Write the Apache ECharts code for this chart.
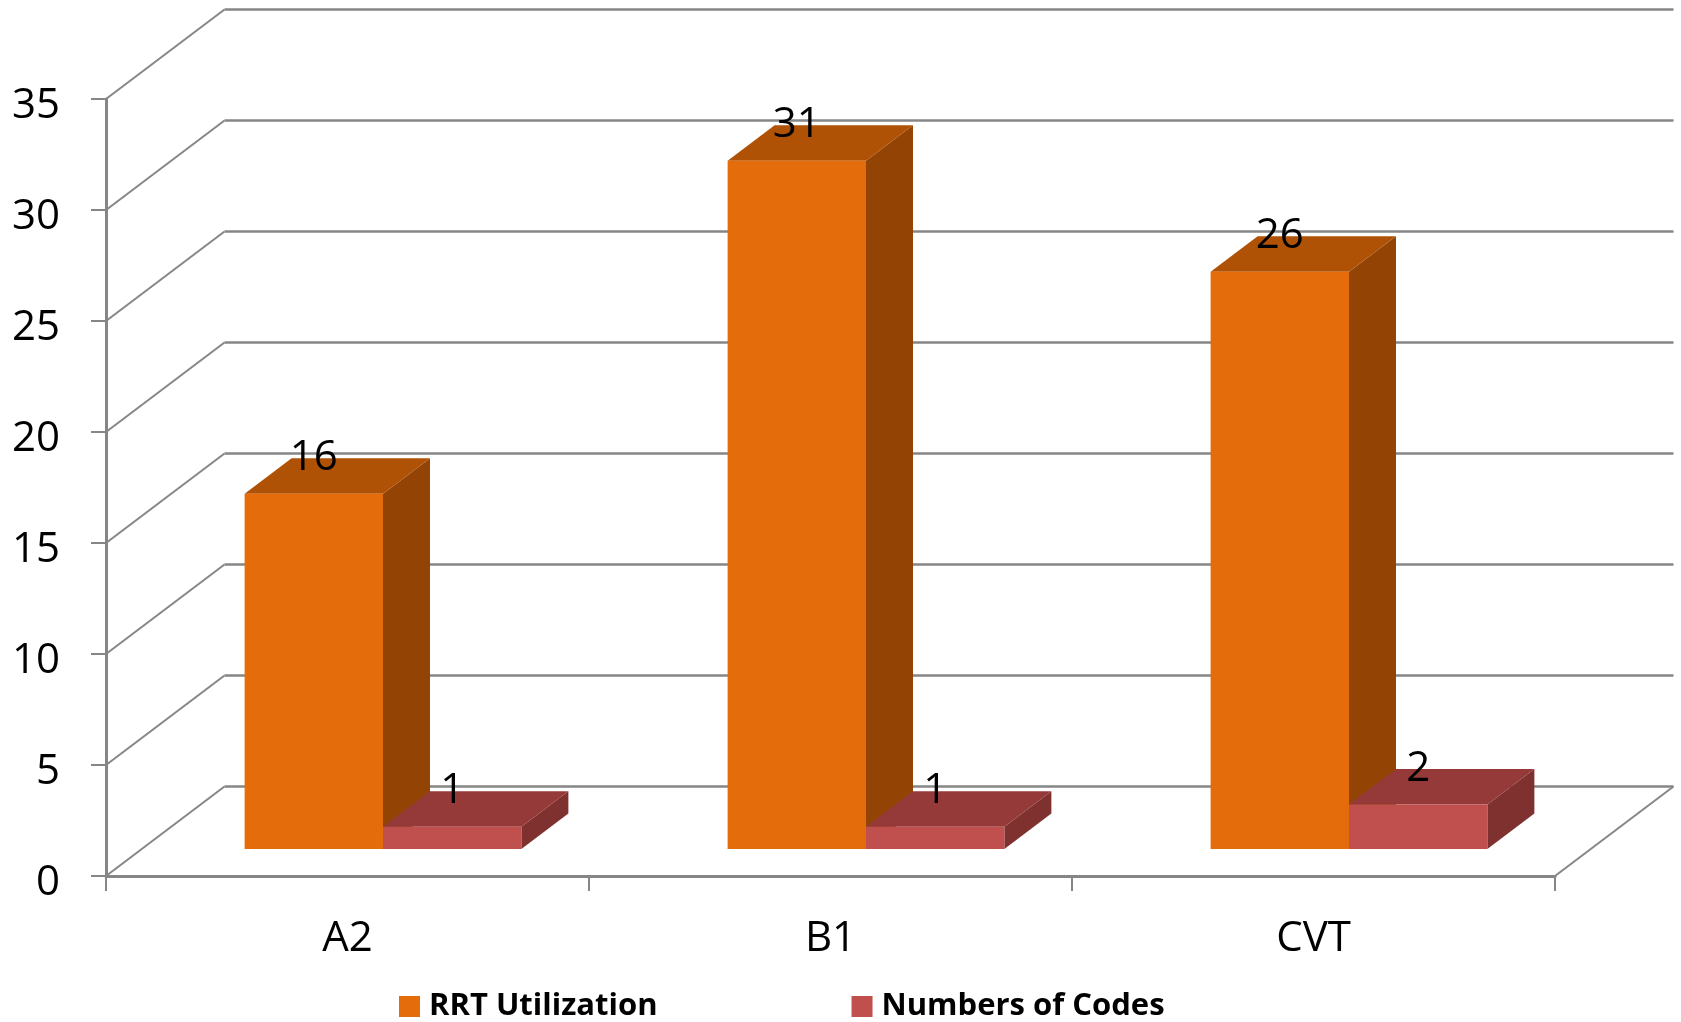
<!DOCTYPE html>
<html>
<head>
<meta charset="utf-8">
<title>RRT Utilization</title>
<style>
  html, body { margin: 0; padding: 0; background: #fff; }
  #main { width: 1681px; height: 1022px; }
</style>
</head>
<body>
<div id="main"></div>
<script src="https://cdn.jsdelivr.net/npm/echarts@6/dist/echarts.min.js"></script>
<script>
const categories = ['A2', 'B1', 'CVT'];
const rrtUtilization = [16, 31, 26];
const numbersOfCodes = [1, 1, 2];
const yTicks = [0, 5, 10, 15, 20, 25, 30, 35];

const FONT = '"Open Sans", sans-serif';
const LINE = '#868686';
// fake 3d: back wall offset, bar inset from the front edge, bar depth
const WALL = [118.5, -89.5];
const INSET = [35.5, -27];
const DEPTH = [47, -35.5];
const BAR_SHARE = 0.2865;

function poly (points, fill) {
  return { type: 'polygon', shape: { points: points }, style: { fill: fill } };
}

function barSeries (name, values, colors, side) {
  return {
    name: name,
    type: 'custom',
    coordinateSystem: 'cartesian2d',
    itemStyle: { color: colors[0] },
    data: values.map((v, i) => [i, v]),
    z: 3,
    renderItem (params, api) {
      const top = api.coord([api.value(0), api.value(1)]);
      const base = api.coord([api.value(0), 0]);
      const w = api.size([1, 0])[0] * BAR_SHARE;
      // side -1: bar sits left of the category centre, 0: right of it
      const x0 = top[0] + INSET[0] + side * w;
      const x1 = x0 + w;
      const y0 = top[1] + INSET[1];
      const y1 = base[1] + INSET[1];
      return {
        type: 'group',
        children: [
          poly([[x1, y0], [x1 + DEPTH[0], y0 + DEPTH[1]], [x1 + DEPTH[0], y1 + DEPTH[1]], [x1, y1]], colors[2]),
          poly([[x0, y0], [x0 + DEPTH[0], y0 + DEPTH[1]], [x1 + DEPTH[0], y0 + DEPTH[1]], [x1, y0]], colors[1]),
          poly([[x0, y0], [x1, y0], [x1, y1], [x0, y1]], colors[0]),
          {
            type: 'text',
            z2: 10,
            style: {
              text: String(api.value(1)),
              x: (x0 + x1) / 2,
              y: y0 - 36,
              align: 'center',
              verticalAlign: 'middle',
              font: '42px ' + FONT,
              fill: '#000'
            }
          }
        ]
      };
    }
  };
}

const myChart = echarts.init(document.getElementById('main'));
myChart.setOption({
  animation: false,
  backgroundColor: '#fff',
  grid: { left: 106, top: 99, right: 126, bottom: 146 },
  legend: {
    data: ['RRT Utilization', 'Numbers of Codes'],
    left: 399,
    top: 991,
    padding: 0,
    icon: 'rect',
    itemWidth: 21,
    itemHeight: 21,
    itemGap: 194,
    textStyle: { fontFamily: FONT, fontWeight: 'bold', fontSize: 31, color: '#000', padding: [0, 0, 0, 4] }
  },
  xAxis: {
    type: 'category',
    data: categories,
    axisLine: { lineStyle: { color: LINE, width: 3 } },
    axisTick: { show: true, length: 15, lineStyle: { color: LINE, width: 2 } },
    axisLabel: { fontFamily: FONT, fontSize: 42, color: '#000', margin: 42 }
  },
  yAxis: {
    type: 'value',
    min: 0,
    max: 35,
    interval: 5,
    splitLine: { show: false },
    axisLine: { show: true, lineStyle: { color: LINE, width: 3 } },
    axisTick: { show: true, length: 15, lineStyle: { color: LINE, width: 2 } },
    // top aligned with a short line box, puts the digits a little under the tick like the original
    axisLabel: { fontFamily: FONT, fontSize: 42, color: '#000', margin: 46, verticalAlign: 'top', lineHeight: 14 }
  },
  series: [
    {
      // back wall and floor lines, one per y tick
      type: 'custom',
      name: 'walls',
      silent: true,
      data: yTicks.map((t) => [0, t]),
      z: 1,
      renderItem (params, api) {
        const sys = params.coordSys;
        const y = api.coord([0, api.value(1)])[1];
        const left = sys.x;
        const right = sys.x + sys.width;
        const children = [
          { type: 'line', shape: { x1: left, y1: y, x2: left + WALL[0], y2: y + WALL[1] }, style: { stroke: LINE, lineWidth: 2 } },
          { type: 'line', shape: { x1: left + WALL[0], y1: y + WALL[1], x2: right + WALL[0], y2: y + WALL[1] }, style: { stroke: LINE, lineWidth: 2.5 } }
        ];
        if (api.value(1) === 0) {
          children.push({ type: 'line', shape: { x1: right, y1: y, x2: right + WALL[0], y2: y + WALL[1] }, style: { stroke: LINE, lineWidth: 2 } });
        }
        return { type: 'group', children: children };
      }
    },
    barSeries('RRT Utilization', rrtUtilization, ['#E46C0A', '#AF5205', '#934405'], -1),
    barSeries('Numbers of Codes', numbersOfCodes, ['#C0504D', '#953A38', '#7F3130'], 0)
  ]
});
window.onresize = myChart.resize;
</script>
</body>
</html>
